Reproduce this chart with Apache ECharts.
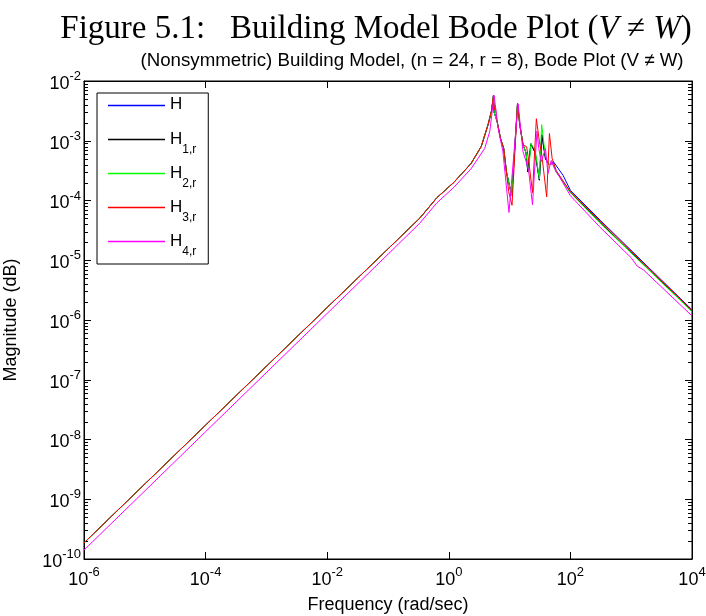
<!DOCTYPE html>
<html><head><meta charset="utf-8">
<script src="https://cdn.jsdelivr.net/npm/echarts@6/dist/echarts.min.js"></script>
<style>html,body{margin:0;padding:0;background:#fff}#c{width:706px;height:616px}</style>
</head><body><div id="c"></div>
<script>
// ---- data (frequency rad/sec, magnitude) ----
const seriesNames = ['H', 'H1r', 'H2r', 'H3r', 'H4r'];
const xTickExponents = [-6, -4, -2, 0, 2, 4];
const yTickExponents = [-10, -9, -8, -7, -6, -5, -4, -3, -2];
const minorMultipliers = [2, 3, 4, 5, 6, 7, 8, 9];

const dataH = [
  [1e-6,1.86e-10],[1e-4,1.74e-8],[1e-2,1.62e-6],[0.1,1.55e-5],[0.333,5.06e-5],[0.635,1.11e-4],
  [1.21,2.01e-4],[2.32,4.15e-4],[3.41,7.98e-4],[4.44,1.88e-3],[5.05,3.18e-3],[5.43,5.75e-3],
  [5.56,3.0e-3],[6.24,2.09e-3],[7.08,1.10e-3],[7.52,1.02e-3],[8.0,7.41e-4],[8.87,3.02e-4],
  [10.86,1.19e-4],[13.49,4.17e-3],[14.72,1.84e-3],[16.67,8.51e-4],[18.6,6.31e-4],[19.95,3.02e-4],
  [22.4,8.91e-4],[26.3,6.31e-4],[30.9,2.19e-4],[33.9,1.26e-3],[38.9,5.01e-4],[44.7,3.98e-4],
  [52.5,4.47e-4],[75.9,2.63e-4],[100,1.48e-4],[309,4.68e-5],[1e4,1.48e-6]
];
const dataH1r = [
  [1e-6,1.86e-10],[1e-4,1.74e-8],[1e-2,1.62e-6],[0.1,1.55e-5],[0.333,5.06e-5],[0.635,1.11e-4],
  [1.21,2.01e-4],[2.32,4.15e-4],[3.41,7.98e-4],[4.44,1.88e-3],[5.05,3.18e-3],[5.43,5.75e-3],
  [5.56,3.0e-3],[6.24,2.09e-3],[7.08,1.10e-3],[7.52,1.02e-3],[8.0,7.41e-4],[8.87,3.02e-4],
  [10.86,1.19e-4],[13.49,4.17e-3],[14.72,1.84e-3],[16.67,8.51e-4],[18.6,6.31e-4],[19.95,3.02e-4],
  [22.4,8.91e-4],[26.3,6.31e-4],[30.9,2.19e-4],[33.9,1.26e-3],[38.9,5.01e-4],[44.7,3.98e-4],
  [52.5,4.17e-4],[58.5,3.02e-4],[100,1.38e-4],[302,4.37e-5],[1e4,1.41e-6]
];
const dataH2r = [
  [1e-6,1.86e-10],[1e-4,1.74e-8],[1e-2,1.62e-6],[0.1,1.55e-5],[0.333,5.06e-5],[0.635,1.11e-4],
  [1.21,2.01e-4],[2.32,4.15e-4],[3.41,7.98e-4],[4.44,1.88e-3],[5.05,3.18e-3],[5.43,5.75e-3],
  [5.56,3.0e-3],[6.24,2.09e-3],[7.08,1.10e-3],[7.52,1.02e-3],[8.0,7.41e-4],[8.87,3.02e-4],
  [10.86,1.19e-4],[13.49,4.17e-3],[14.72,1.84e-3],[16.67,8.51e-4],[18.6,6.31e-4],[20.56,2.95e-4],
  [22.4,8.91e-4],[26.3,7.08e-4],[30.9,2.29e-4],[33.65,1.86e-3],[38.9,5.5e-4],[44.7,3.98e-4],
  [52.5,4.17e-4],[58.5,3.02e-4],[100,1.35e-4],[302,4.27e-5],[1e4,1.38e-6]
];
const dataH3r = [
  [1e-6,1.86e-10],[1e-4,1.74e-8],[1e-2,1.62e-6],[0.1,1.55e-5],[0.333,5.06e-5],[0.635,1.11e-4],
  [1.21,2.01e-4],[2.32,4.15e-4],[3.41,7.98e-4],[4.44,1.88e-3],[5.05,3.18e-3],[5.43,5.75e-3],
  [5.56,3.27e-3],[5.78,3.89e-3],[6.24,2.09e-3],[7.08,1.10e-3],[7.52,1.02e-3],[8.0,7.41e-4],
  [8.87,3.02e-4],[9.66,1.41e-4],[10.96,8.32e-5],[13.49,4.17e-3],[14.72,1.84e-3],[16.67,8.51e-4],
  [19.05,7.94e-4],[20.42,5.01e-4],[23.82,1.35e-4],[27.54,2.34e-3],[30.9,9.77e-4],[33.88,5.75e-4],
  [40.74,1.15e-4],[45.19,1.32e-3],[50.12,5.01e-4],[58.48,3.16e-4],[100,1.40e-4],[309,4.52e-5],
  [1000,1.41e-5],[1e4,1.45e-6]
];
const dataH4r = [
  [1e-6,1.41e-10],[1e-4,1.35e-8],[1e-2,1.29e-6],[0.1,1.26e-5],[0.333,4.17e-5],[0.635,9.12e-5],
  [1.21,1.66e-4],[2.32,3.39e-4],[3.89,7.41e-4],[4.73,1.45e-3],[5.56,5.75e-3],[6.46,1.62e-3],
  [7.76,6.61e-4],[9.77,6.31e-5],[13.8,4.17e-3],[16.6,6.61e-4],[20.4,3.39e-4],[23.8,8.51e-5],
  [28.2,1.45e-3],[30.2,7.41e-4],[33.1,4.47e-4],[38.9,7.41e-4],[42.7,2.82e-4],[48.4,4.68e-4],
  [55.0,3.39e-4],[66.8,2.45e-4],[100,1.20e-4],[302,3.63e-5],[1000,1.10e-5],[1259,7.94e-6],
  [1585,6.92e-6],[1e4,1.17e-6]
];
const seriesData = [dataH, dataH1r, dataH2r, dataH3r, dataH4r];

// minor tick values on the y axis (2..9 x each decade)
const yMinorTicks = [];
yTickExponents.slice(0, -1).forEach(e => minorMultipliers.forEach(k => yMinorTicks.push([1e-6, k * Math.pow(10, e)])));

// ---- styling ----
const colors = ['#0000ff', '#000000', '#00ff00', '#ff0000', '#ff00ff'];
const SANS = 'Liberation Sans';
const SERIF = 'Liberation Serif';
// legend sample: a horizontal stripe centred in a 57x14 box
const LEGEND_LINE_ICON = 'path://M0,0L0,0M0,14L0,14M0,6.2L57,6.2L57,7.8L0,7.8Z';

const expLabel = v => '{b|10}{s|' + Math.round(Math.log10(v)) + '}';
const tickRich = {
  b: { fontFamily: SANS, fontSize: 18, color: '#000', verticalAlign: 'bottom', lineHeight: 18 },
  s: { fontFamily: SANS, fontSize: 13, color: '#000', verticalAlign: 'bottom', lineHeight: 13, padding: [0, 0, 10, 0] }
};
const legendLabel = n => n === 'H' ? '{hb|H}{s| }' : '{h|H}{s|' + n.charAt(1) + ',r}';

const xBase = {
  type: 'log', logBase: 10, min: 1e-6, max: 1e4, interval: 2,
  axisLine: { show: true, lineStyle: { color: '#000', width: 1 } },
  axisTick: { show: true, inside: true, length: 7, lineStyle: { color: '#000' } },
  splitLine: { show: false }, minorTick: { show: false }
};
const yBase = {
  type: 'log', logBase: 10, min: 1e-10, max: 1e-2, interval: 1,
  axisLine: { show: true, lineStyle: { color: '#000', width: 1 } },
  axisTick: { show: true, inside: true, length: 7, lineStyle: { color: '#000' } },
  minorTick: { show: false },
  splitLine: { show: false }, minorSplitLine: { show: false }
};

const chart = echarts.init(document.getElementById('c'), null, { renderer: 'canvas' });
chart.setOption({
  animation: false,
  backgroundColor: '#fff',
  grid: { left: 84, top: 81, right: 14, bottom: 57, show: true, borderColor: '#000', borderWidth: 1,
          containLabel: false, outerBoundsMode: 'none' },
  graphic: [
    { type: 'text', x: 376, y: 29, style: {
        text: 'Figure 5.1:   Building Model Bode Plot ({i|V} ≠ {i|W})',
        rich: { i: { fontFamily: SERIF, fontSize: 33, fontStyle: 'italic', fill: '#000' } },
        fontFamily: SERIF, fontSize: 33, fill: '#000',
        align: 'center', verticalAlign: 'middle', textAlign: 'center', textVerticalAlign: 'middle' } },
    { type: 'text', x: 412, y: 61, style: {
        text: '(Nonsymmetric) Building Model, (n = 24, r = 8), Bode Plot (V ≠ W)',
        fontFamily: SANS, fontSize: 18.7, fill: '#000',
        align: 'center', verticalAlign: 'middle', textAlign: 'center', textVerticalAlign: 'middle' } }
  ],
  xAxis: [
    Object.assign({}, xBase, {
      position: 'bottom',
      name: 'Frequency (rad/sec)', nameLocation: 'middle', nameGap: 37,
      nameTextStyle: { fontFamily: SANS, fontSize: 18, color: '#000' },
      axisLabel: { show: true, margin: 12, formatter: expLabel, rich: tickRich, showMinLabel: true, showMaxLabel: true }
    }),
    Object.assign({}, xBase, { position: 'top', axisLabel: { show: false } })
  ],
  yAxis: [
    Object.assign({}, yBase, {
      position: 'left',
      name: 'Magnitude (dB)', nameLocation: 'middle', nameGap: 64,
      nameTextStyle: { fontFamily: SANS, fontSize: 18, color: '#000' },
      axisLabel: { show: true, margin: 3, padding: [6, 0, 0, 0], formatter: expLabel, rich: tickRich, showMinLabel: true, showMaxLabel: true }
    }),
    Object.assign({}, yBase, { position: 'right', axisLabel: { show: false } })
  ],
  legend: {
    data: seriesNames.map((n, i) => ({
      name: n, icon: LEGEND_LINE_ICON,
      itemStyle: { color: colors[i], opacity: 1, borderWidth: 0 }
    })),
    orient: 'vertical', left: 97, top: 93,
    backgroundColor: '#fff', borderColor: '#000', borderWidth: 1, borderRadius: 0,
    padding: [3, 12, 6, 11], itemGap: 9, itemWidth: 57, itemHeight: 14,
    formatter: legendLabel,
    textStyle: {
      color: '#000',
      rich: {
        h: { fontFamily: SANS, fontSize: 17, color: '#000', verticalAlign: 'top', lineHeight: 17 },
        hb: { fontFamily: SANS, fontSize: 17, color: '#000', verticalAlign: 'bottom', lineHeight: 17, padding: [0, 0, 1, 0] },
        s: { fontFamily: SANS, fontSize: 12, color: '#000', verticalAlign: 'top', lineHeight: 12, padding: [13, 0, 0, 0] }
      }
    }
  },
  series: seriesNames.map((n, i) => ({
    name: n, type: 'line', xAxisIndex: 0, yAxisIndex: 0,
    data: seriesData[i], showSymbol: false, symbol: 'none',
    lineStyle: { color: colors[i], width: 1 }, itemStyle: { color: colors[i] },
    emphasis: { disabled: true }
  })).concat([{
    name: 'minorTicks', type: 'custom', xAxisIndex: 0, yAxisIndex: 0, silent: true, clip: false,
    data: yMinorTicks,
    renderItem: (params, api) => {
      const v = api.value(1);
      const l = api.coord([1e-6, v]);
      const r = api.coord([1e4, v]);
      const y = Math.round(l[1]) + 0.5;
      return { type: 'group', children: [
        { type: 'line', shape: { x1: l[0], y1: y, x2: l[0] + 4, y2: y }, style: { stroke: '#000', lineWidth: 1 } },
        { type: 'line', shape: { x1: r[0], y1: y, x2: r[0] - 4, y2: y }, style: { stroke: '#000', lineWidth: 1 } }
      ] };
    }
  }])
});
</script>
</body></html>
